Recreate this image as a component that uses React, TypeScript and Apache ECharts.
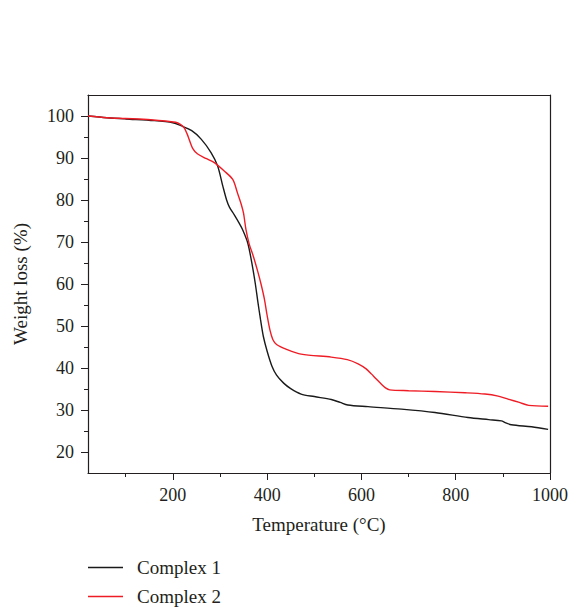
import React, { useEffect, useRef } from "react";
import * as echarts from "echarts";

const seriesNames = ["Complex 1", "Complex 2"];

const complex1: [number, number][] = [
  [20, 100], [60, 99.6], [100, 99.3], [160, 98.9], [200, 98.4], [217, 97.7],
  [240, 96.5], [260, 94.5], [281, 91.3], [295, 88.1], [306, 83.3], [314, 80.0],
  [320, 78.3], [330, 76.5], [340, 74.6], [348, 72.9], [359, 69.7], [369, 64.1],
  [375, 60.0], [380, 56.0], [386, 51.5], [392, 47.5], [400, 44.0], [410, 40.5],
  [420, 38.3], [435, 36.4], [450, 35.1], [472, 33.8], [500, 33.2], [536, 32.5],
  [555, 31.8], [571, 31.2], [614, 30.8], [685, 30.2], [756, 29.4], [826, 28.2],
  [870, 27.7], [897, 27.4], [905, 27.0], [918, 26.5], [961, 26.0], [996, 25.4],
];

const complex2: [number, number][] = [
  [20, 100], [60, 99.6], [100, 99.4], [153, 99.1], [206, 98.5], [216, 98.0],
  [224, 97.2], [230, 95.8], [235, 94.3], [242, 92.3], [252, 91.0], [270, 89.9],
  [288, 88.9], [309, 86.9], [327, 84.9], [337, 81.7], [345, 79.0], [350, 76.8],
  [355, 73.0], [362, 69.5], [371, 66.5], [380, 63.0], [387, 60.0], [394, 56.5],
  [400, 52.5], [406, 49.0], [412, 46.8], [420, 45.6], [440, 44.5], [472, 43.3],
  [536, 42.6], [570, 42.0], [593, 41.0], [610, 39.8], [621, 38.6], [632, 37.3],
  [642, 36.2], [652, 35.2], [660, 34.8], [700, 34.6], [756, 34.4], [820, 34.1],
  [862, 33.8], [890, 33.3], [911, 32.6], [935, 31.8], [955, 31.1], [996, 30.9],
];

const xMajorTicks = [200, 400, 600, 800, 1000];
const xMinorTicks = [100, 300, 500, 700, 900];
const yMajorTicks = [20, 30, 40, 50, 60, 70, 80, 90, 100];
const yMinorTicks = [25, 35, 45, 55, 65, 75, 85, 95];

const FONT = "Liberation Serif";
const TXT = "#231f20";
const BLACK = "#1a1a1a";
const RED = "#ee1c25";

export default function App() {
  const ref = useRef<HTMLDivElement>(null);
  useEffect(() => {
    if (!ref.current) return;
    const chart = echarts.init(ref.current, undefined, { renderer: "svg" });
    const axisLine = { show: true, lineStyle: { color: "#231f20", width: 1.2 } };
    chart.setOption({
      animation: false,
      backgroundColor: "#ffffff",
      textStyle: { fontFamily: FONT, color: TXT },
      grid: { left: 88, top: 95, width: 462, height: 378, show: false },
      legend: {
        orient: "vertical",
        left: 88,
        top: 558,
        padding: 0,
        icon: "rect",
        itemWidth: 35,
        itemHeight: 1.3,
        itemGap: 10,
        data: seriesNames,
        textStyle: { fontFamily: FONT, fontSize: 19, lineHeight: 19, color: TXT, padding: [0, 0, 0, 9] },
      },
      xAxis: [
        {
          type: "value",
          min: 20,
          max: 1000,
          name: "Temperature (°C)",
          nameLocation: "middle",
          nameGap: 42,
          nameTextStyle: { fontFamily: FONT, fontSize: 19, color: TXT },
          axisLine,
          splitLine: { show: false },
          axisTick: { show: true, customValues: xMajorTicks, length: 7, inside: false, lineStyle: { color: "#231f20" } },
          axisLabel: {
            customValues: xMajorTicks,
            formatter: (v: number) => String(v),
            fontFamily: FONT,
            fontSize: 18,
            color: TXT,
            margin: 13,
          },
        },
        {
          type: "value",
          min: 20,
          max: 1000,
          position: "bottom",
          axisLine: { show: false },
          splitLine: { show: false },
          axisTick: { show: true, customValues: xMinorTicks, length: 4, lineStyle: { color: "#231f20" } },
          axisLabel: { show: false },
        },
        {
          type: "value",
          min: 20,
          max: 1000,
          position: "top",
          axisLine,
          splitLine: { show: false },
          axisTick: { show: false },
          axisLabel: { show: false },
        },
      ],
      yAxis: [
        {
          type: "value",
          min: 15,
          max: 105,
          name: "Weight loss (%)",
          nameLocation: "middle",
          nameGap: 58,
          nameTextStyle: { fontFamily: FONT, fontSize: 19, color: TXT },
          axisLine,
          splitLine: { show: false },
          axisTick: { show: true, customValues: yMajorTicks, length: 7, lineStyle: { color: "#231f20" } },
          axisLabel: {
            customValues: yMajorTicks,
            formatter: (v: number) => String(v),
            fontFamily: FONT,
            fontSize: 18,
            color: TXT,
            margin: 14,
          },
        },
        {
          type: "value",
          min: 15,
          max: 105,
          position: "left",
          axisLine: { show: false },
          splitLine: { show: false },
          axisTick: { show: true, customValues: yMinorTicks, length: 4, lineStyle: { color: "#231f20" } },
          axisLabel: { show: false },
        },
        {
          type: "value",
          min: 15,
          max: 105,
          position: "right",
          axisLine,
          splitLine: { show: false },
          axisTick: { show: false },
          axisLabel: { show: false },
        },
      ],
      series: [
        {
          name: seriesNames[0],
          type: "line",
          data: complex1,
          symbol: "none",
          smooth: 0.3,
          lineStyle: { color: BLACK, width: 1.4 },
          itemStyle: { color: BLACK },
        },
        {
          name: seriesNames[1],
          type: "line",
          data: complex2,
          symbol: "none",
          smooth: 0.3,
          lineStyle: { color: RED, width: 1.4 },
          itemStyle: { color: RED },
        },
      ],
    });
    return () => chart.dispose();
  }, []);
  return (
    <div
      ref={ref}
      style={{ position: "absolute", left: 0, top: 0, width: 575, height: 609 }}
    />
  );
}
